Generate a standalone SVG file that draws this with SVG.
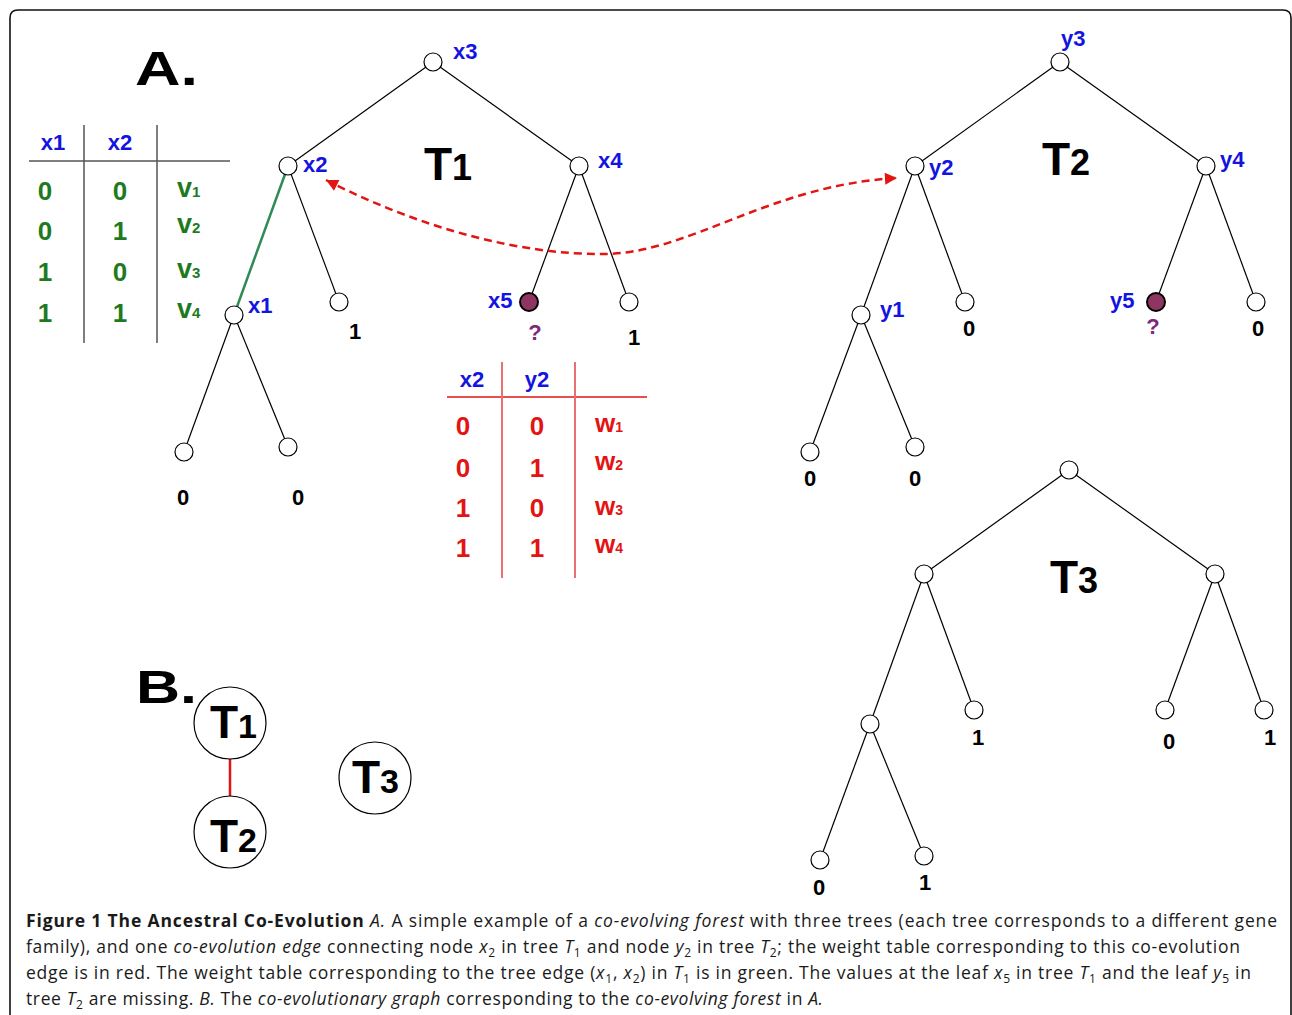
<svg xmlns="http://www.w3.org/2000/svg" width="1292" height="1015" viewBox="0 0 1292 1015">
<defs>
<style>
.edge{stroke:#000;stroke-width:1.2;fill:none}
.nd{fill:#fff;stroke:#000;stroke-width:1.2}
.miss{fill:#8e3562;stroke:#000;stroke-width:2}
.lbl{font-family:"Liberation Sans",Arial,sans-serif;font-weight:bold;font-size:22px;fill:#1414e0}
.val{font-family:"Liberation Sans",Arial,sans-serif;font-weight:bold;font-size:22px;fill:#000;text-anchor:middle}
.q{font-family:"Liberation Sans",Arial,sans-serif;font-weight:bold;font-size:22px;fill:#7a2a7a;text-anchor:middle}
.big{font-family:"Liberation Sans",Arial,sans-serif;font-weight:bold;fill:#000}
.gd{font-family:"Liberation Sans",Arial,sans-serif;font-weight:bold;font-size:26px;fill:#1f7a1f;text-anchor:middle}
.gv{font-family:"Liberation Sans",Arial,sans-serif;font-weight:bold;font-size:27px;fill:#1f7a1f}
.rd{font-family:"Liberation Sans",Arial,sans-serif;font-weight:bold;font-size:26px;fill:#e31414;text-anchor:middle}
.rv{font-family:"Liberation Sans",Arial,sans-serif;font-weight:bold;font-size:26px;fill:#e31414}
.hd{font-family:"Liberation Sans",Arial,sans-serif;font-weight:bold;font-size:22px;fill:#1414e0;text-anchor:middle}
.cap{font-family:"Open Sans","Noto Sans",sans-serif;font-size:17.5px;fill:#1a1a1a}
</style>
<marker id="ah" viewBox="0 0 10 10" refX="10" refY="5" markerWidth="18" markerHeight="12" markerUnits="userSpaceOnUse" orient="auto-start-reverse">
<path d="M0,0 L10,5 L0,10 z" fill="#e31414"/>
</marker>
</defs>
<rect width="1292" height="1015" fill="#fff"/>
<path d="M10,1016 V18 Q10,10 18,10 H1283 Q1291,10 1291,18 V1016" fill="none" stroke="#111" stroke-width="1.6"/>

<text class="big" x="135" y="85" font-size="49" textLength="63" lengthAdjust="spacingAndGlyphs">A.</text>
<text class="big" x="136" y="703" font-size="47" textLength="61" lengthAdjust="spacingAndGlyphs">B.</text>

<!-- green weight table -->
<g id="green-table">
<line x1="29" y1="161" x2="230" y2="161" stroke="#555" stroke-width="1.5"/>
<line x1="84" y1="125" x2="84" y2="343" stroke="#555" stroke-width="1.5"/>
<line x1="157" y1="125" x2="157" y2="343" stroke="#555" stroke-width="1.5"/>
<text class="hd" x="53" y="150">x1</text>
<text class="hd" x="120" y="150">x2</text>
<text class="gd" x="45" y="200">0</text><text class="gd" x="120" y="200">0</text>
<text class="gd" x="45" y="240">0</text><text class="gd" x="120" y="240">1</text>
<text class="gd" x="45" y="281">1</text><text class="gd" x="120" y="281">0</text>
<text class="gd" x="45" y="322">1</text><text class="gd" x="120" y="322">1</text>
<text class="gv" x="177" y="197">v<tspan font-size="15">1</tspan></text>
<text class="gv" x="177" y="233">v<tspan font-size="15">2</tspan></text>
<text class="gv" x="177" y="278">v<tspan font-size="15">3</tspan></text>
<text class="gv" x="177" y="318">v<tspan font-size="15">4</tspan></text>
</g>

<!-- red weight table -->
<g id="red-table">
<line x1="447" y1="397" x2="647" y2="397" stroke="#e31414" stroke-width="1.5"/>
<line x1="502" y1="362" x2="502" y2="578" stroke="#e87070" stroke-width="2"/>
<line x1="575" y1="362" x2="575" y2="578" stroke="#e87070" stroke-width="2"/>
<text class="hd" x="472" y="387">x2</text>
<text class="hd" x="537" y="387">y2</text>
<text class="rd" x="463" y="435">0</text><text class="rd" x="537" y="435">0</text>
<text class="rd" x="463" y="477">0</text><text class="rd" x="537" y="477">1</text>
<text class="rd" x="463" y="517">1</text><text class="rd" x="537" y="517">0</text>
<text class="rd" x="463" y="557">1</text><text class="rd" x="537" y="557">1</text>
<text class="rv" x="595" y="432">w<tspan font-size="14">1</tspan></text>
<text class="rv" x="595" y="470">w<tspan font-size="14">2</tspan></text>
<text class="rv" x="595" y="515">w<tspan font-size="14">3</tspan></text>
<text class="rv" x="595" y="553">w<tspan font-size="14">4</tspan></text>
</g>

<g id="connectors">
<!-- T1 -->
<line class="edge" x1="433" y1="62" x2="288" y2="166"/>
<line class="edge" x1="433" y1="62" x2="579" y2="166"/>
<line x1="288" y1="166" x2="234" y2="315" stroke="#2e8b57" stroke-width="2.5"/>
<line class="edge" x1="288" y1="166" x2="339" y2="302"/>
<line class="edge" x1="579" y1="166" x2="529" y2="302"/>
<line class="edge" x1="579" y1="166" x2="629" y2="302"/>
<line class="edge" x1="234" y1="315" x2="184" y2="452"/>
<line class="edge" x1="234" y1="315" x2="288" y2="447"/>
<!-- T2 -->
<line class="edge" x1="1060" y1="62" x2="915" y2="166"/>
<line class="edge" x1="1060" y1="62" x2="1206" y2="166"/>
<line class="edge" x1="915" y1="166" x2="861" y2="315"/>
<line class="edge" x1="915" y1="166" x2="965" y2="302"/>
<line class="edge" x1="1206" y1="166" x2="1156" y2="302"/>
<line class="edge" x1="1206" y1="166" x2="1256" y2="302"/>
<line class="edge" x1="861" y1="315" x2="810" y2="452"/>
<line class="edge" x1="861" y1="315" x2="915" y2="447"/>
<!-- T3 -->
<line class="edge" x1="1069" y1="470" x2="924" y2="574"/>
<line class="edge" x1="1069" y1="470" x2="1215" y2="574"/>
<line class="edge" x1="924" y1="574" x2="870" y2="724"/>
<line class="edge" x1="924" y1="574" x2="974" y2="710"/>
<line class="edge" x1="1215" y1="574" x2="1165" y2="710"/>
<line class="edge" x1="1215" y1="574" x2="1264" y2="710"/>
<line class="edge" x1="870" y1="724" x2="820" y2="860"/>
<line class="edge" x1="870" y1="724" x2="924" y2="856"/>
<!-- co-evolution edge -->
<path d="M326,180 C420,228 520,255 605,254 C690,253 770,185 897,178" fill="none" stroke="#e31414" stroke-width="2.5" stroke-dasharray="8,5" marker-start="url(#ah)" marker-end="url(#ah)"/>
<!-- B graph edge -->
<line x1="230" y1="759" x2="230" y2="796" stroke="#e31414" stroke-width="2.5"/>
</g>

<!-- T1 nodes -->
<g id="x3"><circle class="nd" cx="433" cy="62" r="9"/><text class="lbl" x="453" y="59">x3</text></g>
<g id="x2"><circle class="nd" cx="288" cy="166" r="9"/><text class="lbl" x="303" y="172">x2</text></g>
<g id="x4"><circle class="nd" cx="579" cy="166" r="9"/><text class="lbl" x="598" y="168">x4</text></g>
<g id="x1"><circle class="nd" cx="234" cy="315" r="9"/><text class="lbl" x="248" y="313">x1</text></g>
<g id="t1-leaf-a"><circle class="nd" cx="339" cy="302" r="9"/><text class="val" x="355" y="339">1</text></g>
<g id="x5"><circle class="miss" cx="529" cy="302" r="9"/><text class="lbl" x="488" y="308">x5</text><text class="q" x="535" y="340">?</text></g>
<g id="t1-leaf-b"><circle class="nd" cx="629" cy="302" r="9"/><text class="val" x="634" y="345">1</text></g>
<g id="t1-leaf-c"><circle class="nd" cx="184" cy="452" r="9"/><text class="val" x="183" y="505">0</text></g>
<g id="t1-leaf-d"><circle class="nd" cx="288" cy="447" r="9"/><text class="val" x="298" y="505">0</text></g>
<text class="big" x="424" y="180" font-size="46">T<tspan font-size="36">1</tspan></text>

<!-- T2 nodes -->
<g id="y3"><circle class="nd" cx="1060" cy="62" r="9"/><text class="lbl" x="1061" y="46">y3</text></g>
<g id="y2"><circle class="nd" cx="915" cy="166" r="9"/><text class="lbl" x="929" y="175">y2</text></g>
<g id="y4"><circle class="nd" cx="1206" cy="166" r="9"/><text class="lbl" x="1220" y="167">y4</text></g>
<g id="y1"><circle class="nd" cx="861" cy="315" r="9"/><text class="lbl" x="880" y="317">y1</text></g>
<g id="t2-leaf-a"><circle class="nd" cx="965" cy="302" r="9"/><text class="val" x="969" y="336">0</text></g>
<g id="y5"><circle class="miss" cx="1156" cy="302" r="9"/><text class="lbl" x="1110" y="308">y5</text><text class="q" x="1153" y="334">?</text></g>
<g id="t2-leaf-b"><circle class="nd" cx="1256" cy="302" r="9"/><text class="val" x="1258" y="336">0</text></g>
<g id="t2-leaf-c"><circle class="nd" cx="810" cy="452" r="9"/><text class="val" x="810" y="486">0</text></g>
<g id="t2-leaf-d"><circle class="nd" cx="915" cy="447" r="9"/><text class="val" x="915" y="486">0</text></g>
<text class="big" x="1042" y="175" font-size="46">T<tspan font-size="36">2</tspan></text>

<!-- T3 nodes -->
<g id="t3-root"><circle class="nd" cx="1069" cy="470" r="9"/></g>
<g id="t3-a"><circle class="nd" cx="924" cy="574" r="9"/></g>
<g id="t3-b"><circle class="nd" cx="1215" cy="574" r="9"/></g>
<g id="t3-c"><circle class="nd" cx="870" cy="724" r="9"/></g>
<g id="t3-leaf-a"><circle class="nd" cx="974" cy="710" r="9"/><text class="val" x="978" y="745">1</text></g>
<g id="t3-leaf-b"><circle class="nd" cx="1165" cy="710" r="9"/><text class="val" x="1169" y="749">0</text></g>
<g id="t3-leaf-c"><circle class="nd" cx="1264" cy="710" r="9"/><text class="val" x="1270" y="745">1</text></g>
<g id="t3-leaf-d"><circle class="nd" cx="820" cy="860" r="9"/><text class="val" x="819" y="895">0</text></g>
<g id="t3-leaf-e"><circle class="nd" cx="924" cy="856" r="9"/><text class="val" x="925" y="890">1</text></g>
<text class="big" x="1050" y="593" font-size="46">T<tspan font-size="36">3</tspan></text>

<!-- B graph nodes -->
<g id="B-T1"><circle class="nd" cx="230" cy="723" r="36"/><text class="big" x="210" y="738" font-size="46">T<tspan font-size="34">1</tspan></text></g>
<g id="B-T2"><circle class="nd" cx="230" cy="832" r="36"/><text class="big" x="210" y="852" font-size="46">T<tspan font-size="34">2</tspan></text></g>
<g id="B-T3"><circle class="nd" cx="375" cy="778" r="36"/><text class="big" x="352" y="793" font-size="46">T<tspan font-size="34">3</tspan></text></g>

<!-- caption -->
<text class="cap" x="26" y="927" textLength="1251" lengthAdjust="spacing"><tspan font-weight="bold">Figure 1 The Ancestral Co-Evolution</tspan> <tspan font-style="italic">A.</tspan> A simple example of a <tspan font-style="italic">co-evolving forest</tspan> with three trees (each tree corresponds to a different gene</text>
<text class="cap" x="26" y="953" textLength="1214" lengthAdjust="spacing">family), and one <tspan font-style="italic">co-evolution edge</tspan> connecting node <tspan font-style="italic">x</tspan><tspan font-size="12" dy="4">2</tspan><tspan dy="-4"> in tree </tspan><tspan font-style="italic">T</tspan><tspan font-size="12" dy="4">1</tspan><tspan dy="-4"> and node </tspan><tspan font-style="italic">y</tspan><tspan font-size="12" dy="4">2</tspan><tspan dy="-4"> in tree </tspan><tspan font-style="italic">T</tspan><tspan font-size="12" dy="4">2</tspan><tspan dy="-4">; the weight table corresponding to this co-evolution</tspan></text>
<text class="cap" x="26" y="979" textLength="1225" lengthAdjust="spacing">edge is in red. The weight table corresponding to the tree edge (<tspan font-style="italic">x</tspan><tspan font-size="12" dy="4">1</tspan><tspan dy="-4">, </tspan><tspan font-style="italic">x</tspan><tspan font-size="12" dy="4">2</tspan><tspan dy="-4">) in </tspan><tspan font-style="italic">T</tspan><tspan font-size="12" dy="4">1</tspan><tspan dy="-4"> is in green. The values at the leaf </tspan><tspan font-style="italic">x</tspan><tspan font-size="12" dy="4">5</tspan><tspan dy="-4"> in tree </tspan><tspan font-style="italic">T</tspan><tspan font-size="12" dy="4">1</tspan><tspan dy="-4"> and the leaf </tspan><tspan font-style="italic">y</tspan><tspan font-size="12" dy="4">5</tspan><tspan dy="-4"> in</tspan></text>
<text class="cap" x="26" y="1005" textLength="797" lengthAdjust="spacing">tree <tspan font-style="italic">T</tspan><tspan font-size="12" dy="4">2</tspan><tspan dy="-4"> are missing. </tspan><tspan font-style="italic">B.</tspan> The <tspan font-style="italic">co-evolutionary graph</tspan> corresponding to the <tspan font-style="italic">co-evolving forest</tspan> in <tspan font-style="italic">A.</tspan></text>
</svg>
